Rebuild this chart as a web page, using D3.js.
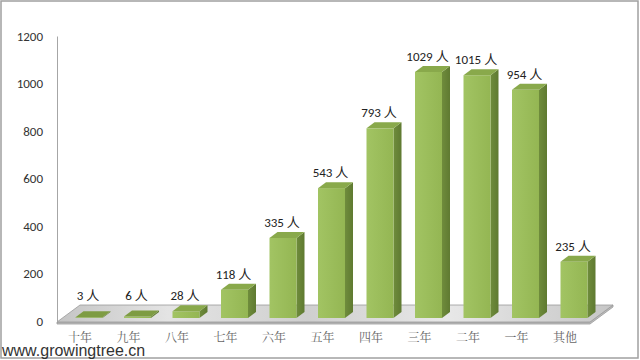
<!DOCTYPE html>
<html><head><meta charset="utf-8">
<script src="https://cdn.jsdelivr.net/npm/d3@7"></script>
<style>html,body{margin:0;padding:0;background:#fff;}svg{display:block;}</style>
</head><body>
<svg id="c" width="640" height="360"></svg>
<script>
const categories = ["十年","九年","八年","七年","六年","五年","四年","三年","二年","一年","其他"];
const values = [3, 6, 28, 118, 335, 543, 793, 1029, 1015, 954, 235];
const yTicks = [0, 200, 400, 600, 800, 1000, 1200];
const unit = "人";
const watermark = "www.growingtree.cn";

const svg = d3.select("#c");
const defs = svg.append("defs");

// frame
svg.append("rect").attr("x", 1).attr("y", 1).attr("width", 637).attr("height", 357)
  .attr("fill", "#fff").attr("stroke", "#a0a0a0").attr("stroke-width", 1.5);

const x = d3.scaleBand().domain(categories).range([55.75, 589.25]);
const yAxisScale = d3.scaleLinear().domain([0, 1200]).range([321, 36]);
const yBar = d3.scaleLinear().domain([0, 1200]).range([318, 31]);

// gradients
const fg = defs.append("linearGradient").attr("id", "floorG").attr("x1", 0).attr("y1", 0).attr("x2", 1).attr("y2", 0);
[["0%", "#c4c4c4"], ["20%", "#e4e4e4"], ["45%", "#cfcfcf"], ["70%", "#e8e8e8"], ["100%", "#c6c6c6"]]
  .forEach(s => fg.append("stop").attr("offset", s[0]).attr("stop-color", s[1]));
const frontG = defs.append("linearGradient").attr("id", "frontG").attr("x1", 0).attr("y1", 0).attr("x2", 1).attr("y2", 0);
[["0%", "#a2c463"], ["100%", "#94b653"]].forEach(s => frontG.append("stop").attr("offset", s[0]).attr("stop-color", s[1]));
const sideG = defs.append("linearGradient").attr("id", "sideG").attr("x1", 0).attr("y1", 0).attr("x2", 1).attr("y2", 0);
[["0%", "#6f8c3c"], ["100%", "#5f7a31"]].forEach(s => sideG.append("stop").attr("offset", s[0]).attr("stop-color", s[1]));

// floor
const fl = { x0: 57, x1: 590, y: 322, dx: 23, dy: -17 };
svg.append("path")
  .attr("d", `M${fl.x0},${fl.y + 2}L${fl.x1},${fl.y + 2}L${fl.x1 + fl.dx},${fl.y + fl.dy + 2}L${fl.x1 + fl.dx},${fl.y + fl.dy}L${fl.x1},${fl.y}L${fl.x0},${fl.y}Z`)
  .attr("fill", "#bdbdbd").attr("stroke", "#9a9a9a").attr("stroke-width", 0.8);
svg.append("path")
  .attr("d", `M${fl.x0},${fl.y}L${fl.x1},${fl.y}L${fl.x1 + fl.dx},${fl.y + fl.dy}L${fl.x0 + fl.dx},${fl.y + fl.dy}Z`)
  .attr("fill", "url(#floorG)").attr("stroke", "#9a9a9a").attr("stroke-width", 0.8);

// y axis
const yAxis = d3.axisLeft(yAxisScale).tickValues(yTicks).tickSize(0).tickPadding(14).tickFormat(d3.format("d"));
const gy = svg.append("g").attr("transform", "translate(57,0)").call(yAxis);
gy.select(".domain").attr("stroke", "#a6a6a6").attr("stroke-width", 1);
gy.selectAll("text").attr("font-family", "Carlito, Lato, 'Liberation Sans', sans-serif")
  .attr("font-size", 13).attr("fill", "#333");

// bars
const bw = 27, bdx = 8, bdy = -6, off = 9;
const bars = svg.append("g");
categories.forEach((c, i) => {
  const v = values[i];
  const cx = x(c) + x.bandwidth() / 2 + off;
  const xl = cx - bw / 2, xr = cx + bw / 2;
  const yb = yBar(0), yt = yBar(v);
  const g = bars.append("g");
  g.append("path").attr("d", `M${xr},${yb}L${xr + bdx},${yb + bdy}L${xr + bdx},${yt + bdy}L${xr},${yt}Z`)
    .attr("fill", "url(#sideG)");
  g.append("rect").attr("x", xl).attr("y", yt).attr("width", bw).attr("height", Math.max(0, yb - yt))
    .attr("fill", "url(#frontG)");
  g.append("path").attr("d", `M${xl},${yt}L${xr},${yt}L${xr + bdx},${yt + bdy}L${xl + bdx},${yt + bdy}Z`)
    .attr("fill", v < 10 ? "#7e9c43" : "#89a94b");
  svg.append("text").attr("x", cx - 1).attr("y", Math.min(yt - 11, 300))
    .attr("text-anchor", "middle")
    .attr("font-family", "Carlito, Lato, 'Noto Sans CJK SC', sans-serif")
    .attr("font-size", 13).attr("fill", "#222")
    .text(v + " " + unit);
  svg.append("text").attr("x", x(c) + x.bandwidth() / 2).attr("y", 342)
    .attr("text-anchor", "middle")
    .attr("font-family", "'Noto Serif CJK SC', 'Noto Sans CJK SC', serif")
    .attr("font-size", 12).attr("fill", "#666")
    .text(c);
});

// watermark
svg.append("text").attr("x", 2).attr("y", 356)
  .attr("font-family", "'Liberation Sans', Arial, sans-serif").attr("font-size", 16).attr("fill", "#333")
  .text(watermark);
</script>
</body></html>
